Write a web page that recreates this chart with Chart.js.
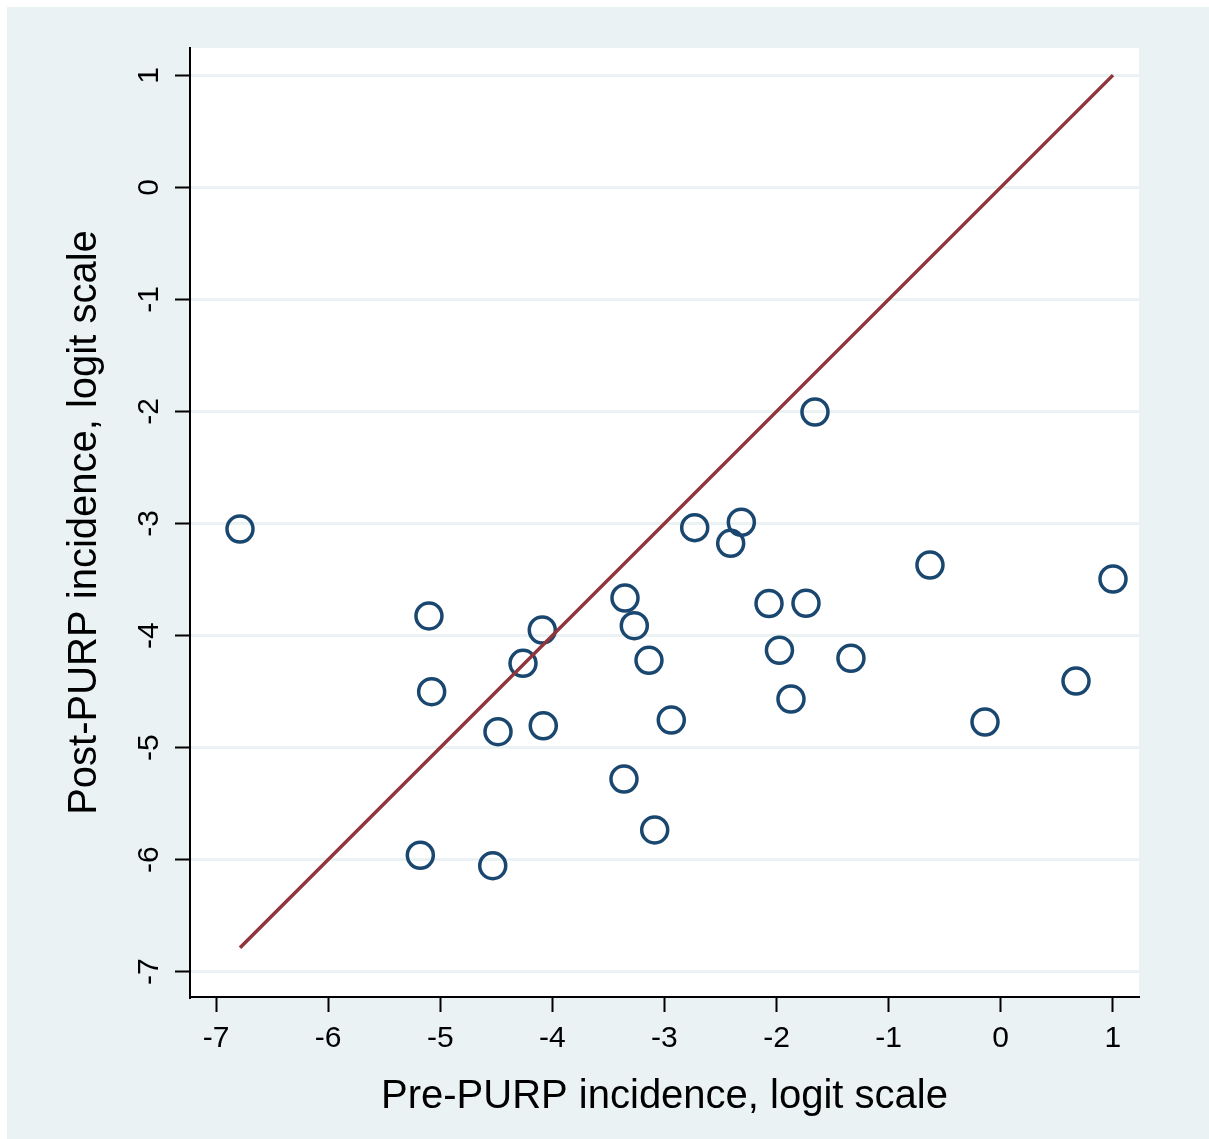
<!DOCTYPE html>
<html>
<head>
<meta charset="utf-8">
<title>Pre vs post PURP incidence</title>
<script src="https://cdn.jsdelivr.net/npm/chart.js@4"></script>
<style>
  html, body { margin: 0; padding: 0; background: #ffffff; }
  canvas { display: block; }
</style>
</head>
<body>
<canvas id="purp-scatter" width="1209" height="1139"></canvas>
<script>
// values (logit scale)
var preIncidence = [-6.787, -5.101, -5.077, -5.178, -4.532, -4.485, -4.262, -4.090, -4.081, -3.352,
                    -3.269, -3.138, -3.361, -3.087, -2.939, -2.730, -2.409, -2.314, -2.067, -1.974,
                    -1.871, -1.737, -1.657, -1.336, -0.631, -0.140, 0.672, 1.002];
var postIncidence = [-3.049, -3.825, -4.501, -5.961, -6.054, -4.858, -4.248, -3.950, -4.805, -3.665,
                     -3.912, -4.221, -5.280, -5.735, -4.754, -3.037, -3.177, -2.989, -3.714, -4.131,
                     -4.566, -3.712, -2.005, -4.203, -3.370, -4.772, -4.406, -3.495];
var equalLine = [-6.787, 1.002];
var xTicks = [-7, -6, -5, -4, -3, -2, -1, 0, 1];
var yTicks = [-7, -6, -5, -4, -3, -2, -1, 0, 1];

var bgColor = '#EAF2F3';
var font = '"Liberation Sans", Arial, sans-serif';

var purpChart;
(function() {
    var backdrop = {
        id: 'backdrop',
        beforeDraw: function(chart) {
            var ctx = chart.ctx, a = chart.chartArea;
            ctx.save();
            ctx.fillStyle = bgColor;
            ctx.fillRect(7, 7, chart.width - 7, chart.height - 7);
            ctx.fillStyle = '#ffffff';
            ctx.fillRect(a.left, a.top, a.right - a.left, a.bottom - a.top);
            ctx.restore();
        }
    };

    // y tick labels are turned on their side like the original
    var sideLabels = {
        id: 'sideLabels',
        afterDraw: function(chart) {
            var ctx = chart.ctx, y = chart.scales.y;
            ctx.save();
            ctx.fillStyle = '#000';
            ctx.font = '30px ' + font;
            ctx.textAlign = 'center';
            ctx.textBaseline = 'alphabetic';
            yTicks.forEach(function(v) {
                ctx.save();
                ctx.translate(158, y.getPixelForValue(v));
                ctx.rotate(-Math.PI / 2);
                ctx.fillText(String(v), 0, 0);
                ctx.restore();
            });
            ctx.restore();
        }
    };

    var ctx = document.getElementById('purp-scatter');
    purpChart = new Chart(ctx, {
        type: 'scatter',
        data: {
            datasets: [{
                type: 'line',
                data: equalLine.map(function(v) { return {x: v, y: v}; }),
                borderColor: '#90353B',
                borderWidth: 3.5,
                pointRadius: 0,
                fill: false
            }, {
                data: preIncidence.map(function(v, i) { return {x: v, y: postIncidence[i]}; }),
                borderColor: '#1A476F',
                backgroundColor: 'rgba(0,0,0,0)',
                borderWidth: 3.5,
                pointRadius: 13,
                pointHoverRadius: 13
            }]
        },
        options: {
            responsive: false,
            animation: false,
            events: [],
            layout: { padding: { left: 0, top: 48, right: 70, bottom: 0 } },
            plugins: {
                legend: { display: false },
                tooltip: { enabled: false }
            },
            scales: {
                x: {
                    type: 'linear',
                    min: -7.233,
                    max: 1.234,
                    afterBuildTicks: function(s) { s.ticks = xTicks.map(function(v) { return {value: v}; }); },
                    afterFit: function(s) { s.height = 142; },
                    grid: { color: 'rgba(0,0,0,0)', tickColor: '#000', tickWidth: 2, tickLength: 15 },
                    border: { color: '#000', width: 2 },
                    ticks: { color: '#000', font: { family: font, size: 30 }, padding: 9, maxRotation: 0 },
                    title: {
                        display: true,
                        text: 'Pre-PURP incidence, logit scale',
                        color: '#000',
                        font: { family: font, size: 40 },
                        padding: { top: 0, bottom: 18 }
                    }
                },
                y: {
                    type: 'linear',
                    min: -7.226,
                    max: 1.244,
                    afterBuildTicks: function(s) { s.ticks = yTicks.map(function(v) { return {value: v}; }); },
                    afterFit: function(s) { s.width = 190; },
                    grid: { color: bgColor, lineWidth: 3, tickColor: '#000', tickWidth: 2, tickLength: 15 },
                    border: { color: '#000', width: 2 },
                    ticks: { color: 'rgba(0,0,0,0)', font: { family: font, size: 30 } },
                    title: {
                        display: true,
                        text: 'Post-PURP incidence, logit scale',
                        color: '#000',
                        font: { family: font, size: 40 },
                        padding: { top: 61, bottom: 61 }
                    }
                }
            }
        },
        plugins: [backdrop, sideLabels]
    });
})();
</script>
</body>
</html>
